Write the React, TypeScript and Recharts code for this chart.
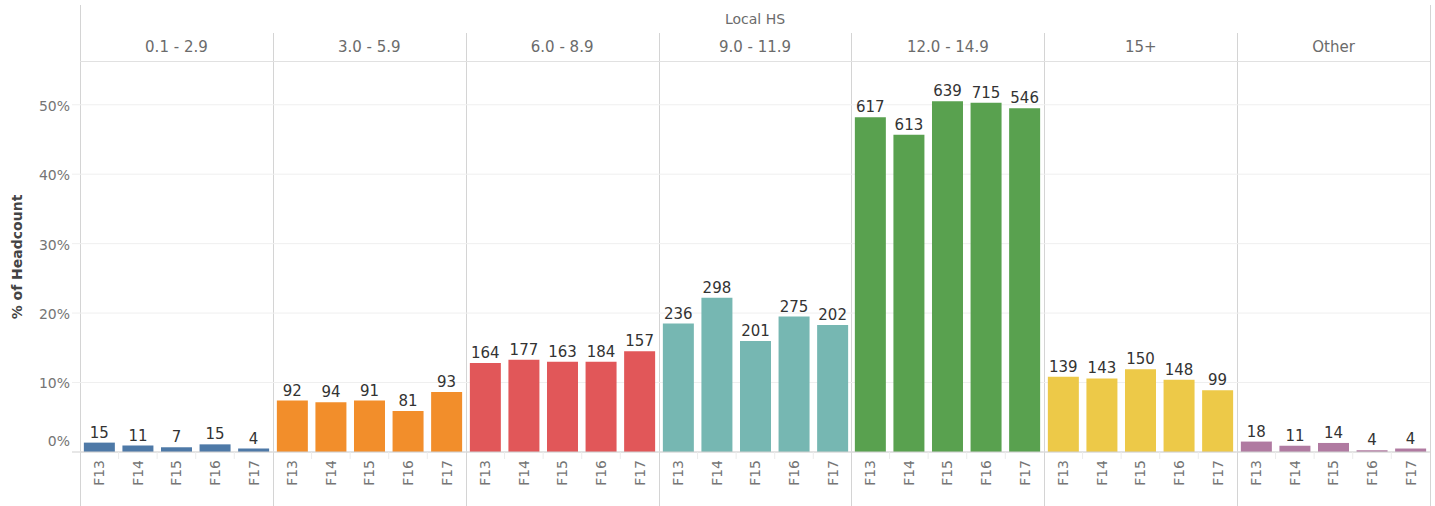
import React from "react";
import { Bar, BarChart, CartesianGrid, Cell, LabelList, XAxis, YAxis } from "recharts";

const years = ["F13", "F14", "F15", "F16", "F17"];
const groups = ["0.1 - 2.9", "3.0 - 5.9", "6.0 - 8.9", "9.0 - 11.9", "12.0 - 14.9", "15+", "Other"];
const colors = ["#4e79a7", "#f28e2b", "#e15759", "#76b7b2", "#59a14f", "#edc948", "#b07aa1"];
const yTicks = [0, 10, 20, 30, 40, 50];

// % of headcount per year, and the headcount shown on top of each bar
const pct01 = [1.35, 0.92, 0.68, 1.1, 0.49];
const count01 = [15, 11, 7, 15, 4];
const pct03 = [7.4, 7.16, 7.4, 5.9, 8.65];
const count03 = [92, 94, 91, 81, 93];
const pct06 = [12.8, 13.3, 13.0, 13.0, 14.5];
const count06 = [164, 177, 163, 184, 157];
const pct09 = [18.5, 22.2, 16.0, 19.5, 18.3];
const count09 = [236, 298, 201, 275, 202];
const pct12 = [48.2, 45.7, 50.5, 50.3, 49.5];
const count12 = [617, 613, 639, 715, 546];
const pct15 = [10.85, 10.6, 11.9, 10.4, 8.9];
const count15 = [139, 143, 150, 148, 99];
const pctOther = [1.5, 0.9, 1.3, 0.25, 0.5];
const countOther = [18, 11, 14, 4, 4];

const pctByGroup = [pct01, pct03, pct06, pct09, pct12, pct15, pctOther];
const countByGroup = [count01, count03, count06, count09, count12, count15, countOther];

const FONT = "'DejaVu Sans', sans-serif";
const AXIS_W = 80;
const PANEL_W = 1350 / 7;
const TOP = 61;
const CHART_H = 506 - TOP;
const LINE = "#d4d4d4";
const DOMAIN: [number, number] = [0, 56.3];

// eslint-disable-next-line @typescript-eslint/no-explicit-any
function YTick({ y, payload }: any) {
  const zero = payload.value === 0;
  return (
    <g>
      <line x1={72} x2={80} y1={y} y2={y} stroke={zero ? "#cfcfcf" : "#efefef"} />
      <text
        x={70}
        y={zero ? y - 11 : y + 1}
        dy="0.35em"
        textAnchor="end"
        fontSize={14}
        fill="#757575"
        fontFamily={FONT}
      >
        {payload.value}%
      </text>
    </g>
  );
}

// eslint-disable-next-line @typescript-eslint/no-explicit-any
function XTick({ x, y, payload, index }: any) {
  const half = PANEL_W / 10;
  return (
    <g>
      {index < 4 && <line x1={x + half} x2={x + half} y1={y - 8} y2={y - 1} stroke="#ececec" />}
      <text
        transform={`translate(${x},${y})rotate(-90)`}
        dy="0.36em"
        textAnchor="end"
        fontSize={14}
        fill="#757575"
        fontFamily={FONT}
      >
        {payload.value}
      </text>
    </g>
  );
}

function Panel({ gi }: { gi: number }) {
  const first = gi === 0;
  const data = years.map((yr, i) => ({
    year: yr,
    pct: pctByGroup[gi][i],
    count: countByGroup[gi][i],
  }));
  return (
    <BarChart
      width={first ? AXIS_W + PANEL_W : PANEL_W}
      height={CHART_H}
      data={data}
      margin={{ top: 0, right: 0, bottom: 0, left: 0 }}
      barCategoryGap="10%"
    >
      <CartesianGrid vertical={false} stroke="#efefef" />
      <XAxis
        dataKey="year"
        height={54}
        tickLine={false}
        axisLine={{ stroke: "#cfcfcf" }}
        tickSize={0}
        tickMargin={8}
        interval={0}
        tick={<XTick />}
      />
      <YAxis
        hide={!first}
        width={AXIS_W}
        domain={DOMAIN}
        ticks={yTicks}
        allowDataOverflow
        axisLine={false}
        tickLine={false}
        tick={<YTick />}
      />
      <Bar dataKey="pct" isAnimationActive={false}>
        {data.map((d) => (
          <Cell key={d.year} fill={colors[gi]} />
        ))}
        <LabelList
          dataKey="count"
          position="top"
          offset={5}
          fontSize={15}
          fill="#333333"
          fontFamily={FONT}
        />
      </Bar>
    </BarChart>
  );
}

export default function App() {
  return (
    <div
      style={{
        position: "absolute",
        left: 0,
        top: 0,
        width: 1435,
        height: 506,
        background: "#fff",
        fontFamily: FONT,
        overflow: "hidden",
      }}
    >
      {/* frame lines */}
      <div style={{ position: "absolute", left: AXIS_W, top: 5, width: 1, height: 501, background: LINE }} />
      <div style={{ position: "absolute", left: AXIS_W + 7 * PANEL_W, top: 5, width: 1, height: 501, background: LINE }} />
      <div style={{ position: "absolute", left: AXIS_W, top: TOP, width: 7 * PANEL_W, height: 1, background: LINE }} />

      <div
        style={{
          position: "absolute",
          left: AXIS_W,
          width: 7 * PANEL_W,
          top: 11,
          textAlign: "center",
          fontSize: 14,
          color: "#6b6b6b",
        }}
      >
        Local HS
      </div>

      <div
        style={{
          position: "absolute",
          left: 17,
          top: 257,
          transform: "translate(-50%, -50%) rotate(-90deg)",
          whiteSpace: "nowrap",
          fontSize: 14,
          fontWeight: "bold",
          color: "#444",
        }}
      >
        % of Headcount
      </div>

      {groups.map((g, gi) => (
        <React.Fragment key={g}>
          {gi > 0 && (
            <div
              style={{
                position: "absolute",
                left: AXIS_W + gi * PANEL_W,
                top: 33,
                width: 1,
                height: 473,
                background: LINE,
              }}
            />
          )}
          <div
            style={{
              position: "absolute",
              left: AXIS_W + gi * PANEL_W,
              width: PANEL_W,
              top: 38,
              textAlign: "center",
              fontSize: 15,
              color: "#6b6b6b",
            }}
          >
            {g}
          </div>
          <div
            style={{
              position: "absolute",
              left: gi === 0 ? 0 : AXIS_W + gi * PANEL_W,
              top: TOP,
            }}
          >
            <Panel gi={gi} />
          </div>
        </React.Fragment>
      ))}
    </div>
  );
}
